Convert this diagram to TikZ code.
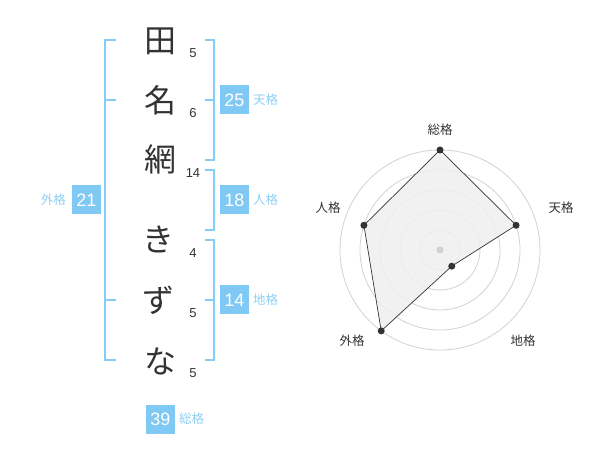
\documentclass[tikz,border=0pt]{standalone}
\usepackage{fontspec}
\setmainfont{Liberation Sans}
\newfontfamily\jp{Noto Sans CJK JP}
\usetikzlibrary{calc}
\definecolor{boxblue}{HTML}{80C9F5}
\definecolor{lineblue}{HTML}{84CDF6}
\definecolor{lblblue}{HTML}{8DCFF3}
\definecolor{ink}{HTML}{333333}
\definecolor{ring}{HTML}{D2D2D2}
\definecolor{areafill}{HTML}{EFEFEF}
\tikzset{
  bigchar/.style={text=ink, font=\jp\fontsize{32}{32}\selectfont, inner sep=0pt},
  strokes/.style={text=ink, font=\fontsize{13}{13}\selectfont, inner sep=0pt},
  valbox/.style={fill=boxblue, text=white, minimum width=29pt, minimum height=29pt, inner sep=0pt, font=\fontsize{18}{18}\selectfont},
  kakulbl/.style={text=lblblue, font=\jp\fontsize{12.5}{12.5}\selectfont, inner sep=0pt},
  bracket/.style={draw=lineblue, line width=2pt, line join=miter},
  radarlbl/.style={text=ink, font=\jp\fontsize{12.5}{12.5}\selectfont, inner sep=0pt},
  ringline/.style={draw=ring, line width=0.8pt},
  dot/.style={fill=ink},
}
\begin{document}
\begin{tikzpicture}[x=1pt,y=-1pt]
\useasboundingbox (0,0) rectangle (600,470);
% characters
\node[bigchar] (c1) at (160,41) {田};
\node[bigchar] (c2) at (160,100) {名};
\node[bigchar] (c3) at (160,159) {網};
\node[bigchar] (c4) at (158,240) {き};
\node[bigchar] (c5) at (158,300) {ず};
\node[bigchar] (c6) at (160,361) {な};
% stroke counts
\node[strokes] (s1) at (193,53) {5};
\node[strokes] (s2) at (193,113) {6};
\node[strokes] (s3) at (193,173) {14};
\node[strokes] (s4) at (193,253) {4};
\node[strokes] (s5) at (193,313) {5};
\node[strokes] (s6) at (193,373) {5};
% brackets
\draw[bracket] (116,40) -- (105,40) -- (105,360) -- (116,360);
\draw[bracket] (105,100) -- (116,100);
\draw[bracket] (105,300) -- (116,300);
\draw[bracket] (205,40) -- (214,40) -- (214,160) -- (205,160);
\draw[bracket] (205,100) -- (214,100);
\draw[bracket] (205,170) -- (214,170) -- (214,230) -- (205,230);
\draw[bracket] (205,240) -- (214,240) -- (214,360) -- (205,360);
\draw[bracket] (205,300) -- (214,300);
% value boxes
\node[valbox] (ten) at (234.5,100) {25};
\node[kakulbl, anchor=west] (tenl) at (253,100) {天格};
\node[valbox] (jin) at (234.5,200) {18};
\node[kakulbl, anchor=west] (jinl) at (253,200) {人格};
\node[valbox] (chi) at (234.5,300) {14};
\node[kakulbl, anchor=west] (chil) at (253,300) {地格};
\node[valbox] (gai) at (86.5,200) {21};
\node[kakulbl, anchor=east] (gail) at (66,200) {外格};
\node[valbox] (sou) at (160.5,419) {39};
\node[kakulbl, anchor=west] (soul) at (179,419) {総格};
% radar
\coordinate (rc) at (440,250);
\foreach \r in {20,40,60,80,100} \draw[ringline] (rc) circle (\r);
\coordinate (p1) at ($(rc)+(-90:100)$);
\coordinate (p2) at ($(rc)+(-18:80)$);
\coordinate (p3) at ($(rc)+(54:20)$);
\coordinate (p4) at ($(rc)+(126:100)$);
\coordinate (p5) at ($(rc)+(198:80)$);
\draw[fill=areafill, fill opacity=0.85, draw=ink, line width=0.7pt] (p1) -- (p2) -- (p3) -- (p4) -- (p5) -- cycle;
\fill[ring] (rc) circle (3.5);
\foreach \p in {p1,p2,p3,p4,p5} \fill[dot] (\p) circle (3.5);
\node[radarlbl] (r1) at (440,130) {総格};
\node[radarlbl] (r2) at (561,208) {天格};
\node[radarlbl] (r3) at (523,341) {地格};
\node[radarlbl] (r4) at (352,341) {外格};
\node[radarlbl] (r5) at (328,208) {人格};
\end{tikzpicture}
\end{document}
